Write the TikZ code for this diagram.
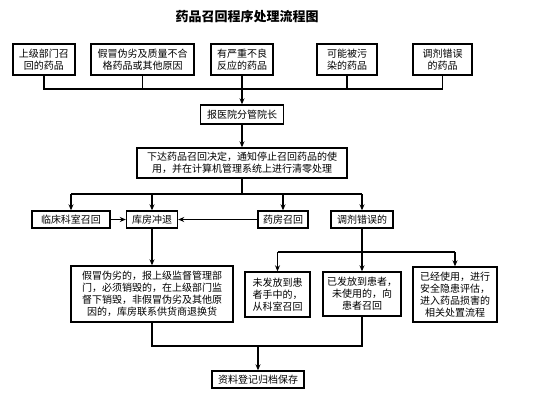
\documentclass[tikz,border=0pt]{standalone}
\usepackage{fontspec}
\newfontfamily\cjk{Noto Sans CJK SC}
\usetikzlibrary{arrows.meta}
\begin{document}
\begin{tikzpicture}[x=1pt,y=-1pt,
  box/.style={draw,line width=1.4pt,inner sep=0pt,align=center,
    font=\cjk\fontsize{10}{12}\selectfont},
  conn/.style={line width=1.2pt},
  arr/.style={conn,-{Stealth[length=6pt,width=5pt]}}]
\useasboundingbox[fill=white] (0,0) rectangle (533,400);
\node[font=\cjk\bfseries\fontsize{13}{15}\selectfont] (title) at (247,17) {药品召回程序处理流程图};
% top row
\node[box,minimum width=62,minimum height=31] (t1) at (44,59.5) {上级部门召\\回的药品};
\node[box,minimum width=103,minimum height=31] (t2) at (142.5,59.5) {假冒伪劣及质量不合\\格药品或其他原因};
\node[box,minimum width=62,minimum height=31] (t3) at (242,59.5) {有严重不良\\反应的药品};
\node[box,minimum width=60,minimum height=31] (t4) at (347,59.5) {可能被污\\染的药品};
\node[box,minimum width=59,minimum height=31] (t5) at (442.5,59.5) {调剂错误\\的药品};
\coordinate (bus1) at (242,89);
\draw[conn] (t1.south) -- (t1.south |- bus1) -- (t5.south |- bus1) -- (t5.south);
\draw[conn] (t2.south) -- (t2.south |- bus1);
\draw[conn] (t4.south) -- (t4.south |- bus1);
\node[box,minimum width=83,minimum height=19] (boss) at (242,114.5) {报医院分管院长};
\draw[arr] (t3.south) -- (boss.north);
\node[box,minimum width=210,minimum height=30] (dec) at (242,163) {下达药品召回决定，通知停止召回药品的使\\用，并在计算机管理系统上进行清零处理};
\draw[arr] (boss.south) -- (dec.north);
% second row
\node[box,minimum width=78,minimum height=17] (r1) at (71,219.5) {临床科室召回};
\node[box,minimum width=51,minimum height=17] (r2) at (152,219.5) {库房冲退};
\node[box,minimum width=50,minimum height=17] (r3) at (283,219.5) {药房召回};
\node[box,minimum width=62,minimum height=17] (r4) at (362,219.5) {调剂错误的};
\coordinate (bus2) at (242,194);
\draw[conn] (dec.south) -- (bus2);
\draw[conn] (r1.north |- bus2) -- (r4.north |- bus2);
\draw[arr] (r1.north |- bus2) -- (r1.north);
\draw[arr] (r2.north |- bus2) -- (r2.north);
\draw[arr] (r3.north |- bus2) -- (r3.north);
\draw[arr] (r4.north |- bus2) -- (r4.north);
\draw[arr] (r1.east) -- (r2.west);
\draw[arr] (r3.west) -- (r2.east);
% third row
\node[box,minimum width=162,minimum height=56] (big) at (152,294) {假冒伪劣的，报上级监督管理部\\门，必须销毁的，在上级部门监\\督下销毁，非假冒伪劣及其他原\\因的，库房联系供货商退换货};
\draw[arr] (r2.south) -- (big.north);
\node[box,minimum width=65,minimum height=45] (b1) at (277.5,294.5) {未发放到患\\者手中的，\\从科室召回};
\node[box,minimum width=78,minimum height=44] (b2) at (362,294) {已发放到患者，\\未使用的，向\\患者召回};
\node[box,minimum width=84,minimum height=55] (b3) at (455,294.5) {已经使用，进行\\安全隐患评估，\\进入药品损害的\\相关处置流程};
\coordinate (bus3) at (362,252);
\draw[conn] (r4.south) -- (bus3);
\draw[conn] (b1.north |- bus3) -- (b3.north |- bus3);
\draw[arr] (b1.north |- bus3) -- (b1.north);
\draw[arr] (bus3) -- (b2.north);
\draw[arr] (b3.north |- bus3) -- (b3.north);
% bottom
\node[box,minimum width=92,minimum height=17] (arch) at (258,379.5) {资料登记归档保存};
\coordinate (bus4) at (258,346);
\draw[conn] (big.south) -- (big.south |- bus4) -- (b2.south |- bus4) -- (b2.south);
\draw[arr] (bus4) -- (arch.north);
\end{tikzpicture}
\end{document}
